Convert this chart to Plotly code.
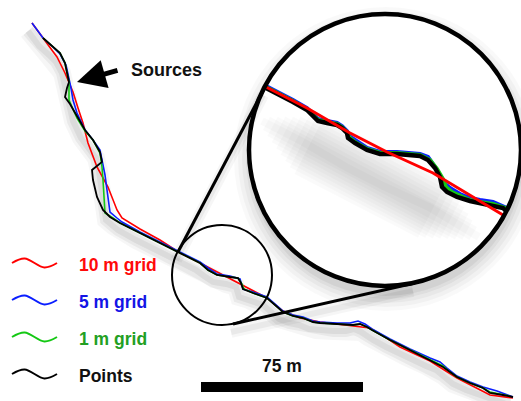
import math
import plotly.graph_objects as go

W, H = 521, 401

# ---------------- data: flow paths (map coordinates in px units) ----------------
red_x = [32, 47, 57, 65, 73, 78, 83, 88, 97, 108, 117, 122, 140, 160, 180, 200, 230, 267, 283, 300,
         320, 345, 370, 385, 400, 430, 457, 490, 513]
red_y = [23, 43, 57, 73, 92, 108, 123, 143, 167, 187, 210, 218, 229, 240, 253, 263, 279, 298, 311, 318,
         322, 325, 328, 337, 347, 361, 378, 395, 398]

blue_x = [32, 43, 53, 60, 66, 69, 71, 73, 77, 85, 93, 100, 103, 105, 107, 110, 117, 122, 140, 160, 180,
          200, 208, 217, 230, 240, 243, 253, 267, 275, 283, 293, 303, 313, 320, 337, 350, 358, 365, 372,
          377, 390, 400, 410, 430, 440, 447, 457, 470, 483, 497, 505, 513]
blue_y = [23, 38, 47, 54, 65, 78, 88, 100, 113, 130, 140, 150, 163, 175, 190, 212, 218, 222, 232, 242, 252,
          262, 268, 274, 276, 279, 289, 292, 297, 304, 311, 315, 317, 321, 322, 323, 323, 321, 324, 329,
          332, 339, 344, 349, 358, 362, 368, 376, 382, 387, 391, 394, 397]

green_x = [43, 53, 60, 65, 68, 69, 69, 69, 72, 77, 85, 93, 100, 102, 103, 104, 105, 113, 120, 140, 160,
           180, 200, 208, 217, 230, 238, 242, 244, 253, 267, 275, 283, 293, 303, 313, 320, 337, 353, 360,
           367, 372, 377, 390, 400, 410, 430, 443, 450, 457, 470, 483, 490, 503, 510]
green_y = [38, 47, 53, 63, 77, 82, 92, 100, 107, 118, 131, 140, 153, 167, 180, 195, 213, 218, 223, 233, 243,
           253, 263, 270, 275, 277, 278, 284, 289, 293, 298, 305, 312, 316, 318, 322, 323, 324, 325, 324,
           327, 330, 333, 340, 345, 350, 360, 366, 372, 377, 383, 388, 392, 395, 396]

black_x = [43, 53, 60, 65, 68, 69, 67, 66, 65, 70, 77, 85, 93, 100, 102, 92, 93, 97, 103, 110, 120, 140,
           160, 180, 200, 208, 217, 230, 238, 241, 243, 253, 267, 275, 283, 293, 303, 313, 320, 337, 353,
           360, 367, 372, 377, 390, 400, 410, 430, 443, 457, 470, 483, 490, 503, 513]
black_y = [38, 47, 53, 63, 77, 82, 88, 93, 97, 104, 116, 130, 140, 152, 162, 170, 180, 197, 210, 217, 223,
           233, 243, 253, 263, 270, 275, 277, 278, 283, 289, 293, 298, 305, 312, 316, 318, 322, 323, 324,
           325, 324, 327, 330, 333, 340, 345, 350, 360, 367, 377, 383, 388, 393, 395, 397]

# ---------------- data: magnified inset (px units inside the large circle) ----------------
inset_red_x = [266, 307, 350, 387, 433, 473, 503]
inset_red_y = [87, 108, 133, 152, 173, 197, 215]

inset_blue_x = [266, 280, 293, 307, 318, 327, 337, 342, 347, 349, 356, 367, 380, 397, 420, 428, 433, 438,
                443, 450, 460, 470, 480, 493, 507]
inset_blue_y = [86, 93, 100, 108, 119, 121, 123, 126, 131, 136, 141, 148, 152, 152, 154, 157, 164, 172,
                182, 188, 194, 198, 200, 202, 208]

inset_green_x = [266, 280, 293, 307, 318, 327, 337, 342, 347, 349, 355, 367, 380, 397, 420, 430, 437, 443,
                 446, 452, 460, 470, 480, 493, 508]
inset_green_y = [87, 94, 101, 109, 120, 122, 124, 127, 132, 137, 142, 149, 153, 153, 155, 160, 169, 179,
                 187, 192, 196, 200, 202, 204, 209]

inset_black_x = [266, 280, 293, 307, 318, 327, 337, 342, 347, 348, 355, 367, 380, 397, 420, 428, 435, 440,
                 442, 447, 457, 470, 480, 493, 503, 507]
inset_black_y = [88, 95, 102, 110, 121, 123, 125, 128, 133, 138, 143, 150, 154, 154, 156, 160, 168, 177,
                 187, 192, 197, 201, 203, 205, 208, 212]

series_names = ["10 m grid", "5 m grid", "1 m grid", "Points"]
line_colors = ["#ff0000", "#0a1eff", "#14c814", "#000000"]
text_colors = ["#ff0a0a", "#1414e6", "#23a023", "#111111"]

# ---------------- layout geometry ----------------
small_c = (222, 275)
small_r = 50
big_c = (385, 150)
big_r = 136
tangent_upper = [(178, 252), (265, 87)]
tangent_lower = [(233, 324), (415, 283)]
FONT = "Liberation Sans, Arial, sans-serif"

fig = go.Figure()
shapes = []
annotations = []


def circle(c, r, **kw):
    return dict(type="circle", xref="x", yref="y", x0=c[0] - r, x1=c[0] + r,
                y0=c[1] - r, y1=c[1] + r, **kw)


def clip_polyline(pts, c, R):
    """Keep the part of a polyline lying inside the circle (c, R)."""
    def inside(p):
        return (p[0] - c[0]) ** 2 + (p[1] - c[1]) ** 2 <= R * R

    def cross(p, q):
        dx, dy = q[0] - p[0], q[1] - p[1]
        fx, fy = p[0] - c[0], p[1] - c[1]
        a = dx * dx + dy * dy
        b = 2 * (fx * dx + fy * dy)
        cc = fx * fx + fy * fy - R * R
        disc = max(b * b - 4 * a * cc, 0)
        ts = [(-b - math.sqrt(disc)) / (2 * a), (-b + math.sqrt(disc)) / (2 * a)]
        ts = [t for t in ts if 0 <= t <= 1]
        return [(p[0] + t * dx, p[1] + t * dy) for t in ts]

    out = []
    for p, q in zip(pts[:-1], pts[1:]):
        ip, iq = inside(p), inside(q)
        if ip and not out:
            out.append(p)
        if ip != iq:
            xs = cross(p, q)
            if xs:
                out.append(xs[0])
        if iq:
            out.append(q)
    return out


# big circle drop shadow (soft rings) + white fill
for dr, a in [(16, 0.025), (12, 0.03), (8, 0.035), (4, 0.045), (1, 0.05)]:
    shapes.append(circle((big_c[0] + 1, big_c[1] + 9), big_r + dr, layer="below",
                         fillcolor=f"rgba(0,0,0,{a})", line=dict(width=0)))
shapes.append(circle(big_c, big_r, layer="below", fillcolor="white", line=dict(width=0)))

# tangent line shadows
for seg in (tangent_upper, tangent_lower):
    for w, a in [(12, 0.035), (6, 0.05)]:
        shapes.append(dict(type="line", xref="x", yref="y", layer="below",
                           x0=seg[0][0] - 2, y0=seg[0][1] + 8, x1=seg[1][0] - 2, y1=seg[1][1] + 8,
                           line=dict(color=f"rgba(0,0,0,{a})", width=w)))

# main path shadow
for w, a in [(18, 0.035), (12, 0.05), (6, 0.06)]:
    fig.add_trace(go.Scatter(x=[v - 4 for v in blue_x], y=[v + 8 for v in blue_y], mode="lines",
                             line=dict(color=f"rgba(0,0,0,{a})", width=w), hoverinfo="skip",
                             showlegend=False))

# main paths
for xs, ys, col, w in [(red_x, red_y, line_colors[0], 1.6), (blue_x, blue_y, line_colors[1], 1.6),
                       (green_x, green_y, line_colors[2], 1.6), (black_x, black_y, line_colors[3], 1.8)]:
    fig.add_trace(go.Scatter(x=xs, y=ys, mode="lines", line=dict(color=col, width=w),
                             hoverinfo="skip", showlegend=False))

# inset shadow: soft band under the 10 m path; wide layers are shorter so the ends fade
base = [(x - 4, y + 34) for x, y in zip(inset_red_x, inset_red_y)]
for k in range(9):
    w = 8 + 7 * k
    seg = clip_polyline(base, big_c, big_r - 4 - w / 2 - 3 * k)
    if len(seg) < 2:
        continue
    fig.add_trace(go.Scatter(x=[p[0] for p in seg], y=[p[1] for p in seg], mode="lines",
                             line=dict(color="rgba(0,0,0,0.018)", width=w),
                             hoverinfo="skip", showlegend=False))

# inset paths
for xs, ys, col, w in [(inset_blue_x, inset_blue_y, line_colors[1], 4),
                       (inset_green_x, inset_green_y, line_colors[2], 4),
                       (inset_black_x, inset_black_y, line_colors[3], 4.5),
                       (inset_red_x, inset_red_y, line_colors[0], 3)]:
    fig.add_trace(go.Scatter(x=xs, y=ys, mode="lines", line=dict(color=col, width=w),
                             hoverinfo="skip", showlegend=False))

# outlines on top
shapes.append(circle(small_c, small_r, layer="above", line=dict(color="black", width=2)))
for seg, w in [(tangent_upper, 3), (tangent_lower, 3)]:
    shapes.append(dict(type="line", xref="x", yref="y", layer="above",
                       x0=seg[0][0], y0=seg[0][1], x1=seg[1][0], y1=seg[1][1],
                       line=dict(color="black", width=w)))
shapes.append(circle(big_c, big_r, layer="above", line=dict(color="black", width=4.5)))

# legend (wavy glyphs + labels)
wave_u = [0.0, 0.28, 0.72, 1.0]
wave_v = [0.0, 1.0, -1.0, 0.0]
legend_y = [264, 301, 338, 375]
for name, lc, tc, yc in zip(series_names, line_colors, text_colors, legend_y):
    fig.add_trace(go.Scatter(x=[12 + 45 * u for u in wave_u], y=[yc - 1 - 4.5 * v for v in wave_v],
                             mode="lines", line=dict(color=lc, width=2, shape="spline"),
                             hoverinfo="skip", showlegend=False))
    annotations.append(dict(x=77, y=yc + 1, xref="x", yref="y", text=name, showarrow=False,
                            xanchor="left", yanchor="middle",
                            font=dict(family=FONT, size=17.5, color=tc, weight="bold")))

# scale bar
shapes.append(dict(type="rect", xref="x", yref="y", x0=201, x1=363, y0=382, y1=392,
                   fillcolor="black", line=dict(width=0), layer="above"))
annotations.append(dict(x=282, y=366, xref="x", yref="y", text="75 m", showarrow=False,
                        xanchor="center", yanchor="middle",
                        font=dict(family=FONT, size=17.5, color="#111111", weight="bold")))

# Sources label and arrow
annotations.append(dict(x=129, y=70, xref="x", yref="y", text="Sources", showarrow=False,
                        xanchor="left", yanchor="middle",
                        font=dict(family=FONT, size=18, color="#111111", weight="bold")))
annotations.append(dict(x=77, y=82, xref="x", yref="y", ax=119, ay=70, axref="x", ayref="y",
                        text="", showarrow=True, arrowhead=2, arrowsize=1.15, arrowwidth=5,
                        arrowcolor="black", standoff=0))

fig.update_layout(
    width=W, height=H, margin=dict(l=0, r=0, t=0, b=0),
    paper_bgcolor="white", plot_bgcolor="white",
    xaxis=dict(range=[0, W], visible=False, fixedrange=True),
    yaxis=dict(range=[H, 0], visible=False, fixedrange=True),
    shapes=shapes, annotations=annotations, showlegend=False,
)

fig.write_html("out.html", config={"displayModeBar": False},
               post_script="document.body.style.margin='0px';document.body.style.overflow='hidden';")
